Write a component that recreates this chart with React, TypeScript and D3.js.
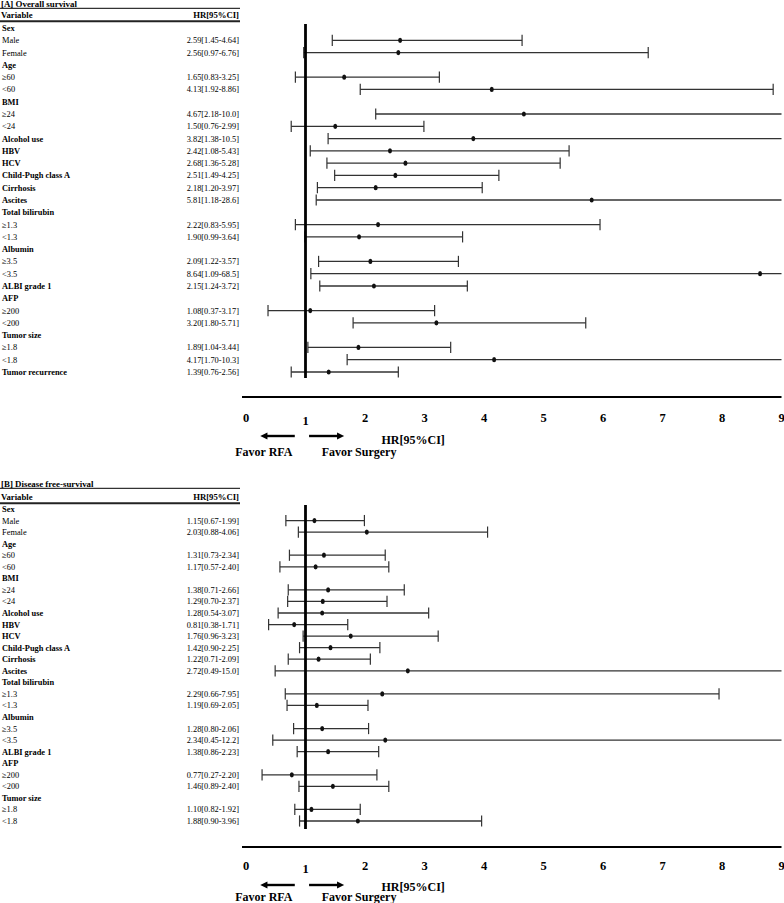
import React from "react";
import * as d3 from "d3";

// ---------- Data: [A] Overall survival ----------
const labelsA = [
  "Sex", "Male", "Female", "Age", "≥60", "<60", "BMI", "≥24", "<24",
  "Alcohol use", "HBV", "HCV", "Child-Pugh class A", "Cirrhosis", "Ascites",
  "Total bilirubin", "≥1.3", "<1.3", "Albumin", "≥3.5", "<3.5", "ALBI grade 1",
  "AFP", "≥200", "<200", "Tumor size", "≥1.8", "<1.8", "Tumor recurrence",
];
const hrA = [null, 2.59, 2.56, null, 1.65, 4.13, null, 4.67, 1.5, 3.82, 2.42, 2.68, 2.51, 2.18, 5.81, null, 2.22, 1.9, null, 2.09, 8.64, 2.15, null, 1.08, 3.2, null, 1.89, 4.17, 1.39];
const loA = [null, 1.45, 0.97, null, 0.83, 1.92, null, 2.18, 0.76, 1.38, 1.08, 1.36, 1.49, 1.2, 1.18, null, 0.83, 0.99, null, 1.22, 1.09, 1.24, null, 0.37, 1.8, null, 1.04, 1.7, 0.76];
const hiA = [null, 4.64, 6.76, null, 3.25, 8.86, null, 10.0, 2.99, 10.5, 5.43, 5.28, 4.25, 3.97, 28.6, null, 5.95, 3.64, null, 3.57, 68.5, 3.72, null, 3.17, 5.71, null, 3.44, 10.3, 2.56];

// ---------- Data: [B] Disease free-survival ----------
const labelsB = [
  "Sex", "Male", "Female", "Age", "≥60", "<60", "BMI", "≥24", "<24",
  "Alcohol use", "HBV", "HCV", "Child-Pugh class A", "Cirrhosis", "Ascites",
  "Total bilirubin", "≥1.3", "<1.3", "Albumin", "≥3.5", "<3.5", "ALBI grade 1",
  "AFP", "≥200", "<200", "Tumor size", "≥1.8", "<1.8",
];
const hrB = [null, 1.15, 2.03, null, 1.31, 1.17, null, 1.38, 1.29, 1.28, 0.81, 1.76, 1.42, 1.22, 2.72, null, 2.29, 1.19, null, 1.28, 2.34, 1.38, null, 0.77, 1.46, null, 1.1, 1.88];
const loB = [null, 0.67, 0.88, null, 0.73, 0.57, null, 0.71, 0.7, 0.54, 0.38, 0.96, 0.9, 0.71, 0.49, null, 0.66, 0.69, null, 0.8, 0.45, 0.86, null, 0.27, 0.89, null, 0.82, 0.9];
const hiB = [null, 1.99, 4.06, null, 2.34, 2.4, null, 2.66, 2.37, 3.07, 1.71, 3.23, 2.25, 2.09, 15.0, null, 7.95, 2.05, null, 2.06, 12.2, 2.23, null, 2.2, 2.4, null, 1.92, 3.96];

const tickValues = [0, 1, 2, 3, 4, 5, 6, 7, 8, 9];
const subgroupLabels = ["Male", "Female"];

const FONT = "'Liberation Serif', 'Times New Roman', Times, serif";
const W = 784;
const H = 903;

const x = d3.scaleLinear().domain([0, 9]).range([246, 781.5]);

const fmt = (v: number) => (v >= 10 ? v.toFixed(1) : v.toFixed(2));
const isSub = (l: string) => subgroupLabels.includes(l) || l.startsWith("≥") || l.startsWith("<");

type PanelProps = {
  title: string;
  labels: string[];
  hr: (number | null)[];
  lo: (number | null)[];
  hi: (number | null)[];
  titleY: number;
  firstRow: number;
  lastRow: number;
  refTop: number;
  refBottom: number;
  axisY: number;
  tickDy: number;
  arrowDy: number;
  hrDy: number;
  favorDy: number;
  headerY: number;
};

function Panel(p: PanelProps) {
  const y = d3
    .scalePoint<number>()
    .domain(d3.range(p.labels.length))
    .range([p.firstRow, p.lastRow]);
  const xMax = x.domain()[1];
  const capH = 5.6;
  const headerY = p.headerY;
  return (
    <g>
      {/* Title and header */}
      <text x={1} y={p.titleY} fontFamily={FONT} fontWeight="bold" fontSize={8.9}>
        {p.title}
      </text>
      <line x1={0} x2={240} y1={p.titleY + 1.3} y2={p.titleY + 1.3} stroke="#000" strokeWidth={1} />
      <text x={1} y={headerY} fontFamily={FONT} fontWeight="bold" fontSize={8.7}>
        Variable
      </text>
      <text x={239} y={headerY} fontFamily={FONT} fontWeight="bold" fontSize={8.7} textAnchor="end">
        HR[95%CI]
      </text>
      <line x1={0} x2={240} y1={headerY + 3.2} y2={headerY + 3.2} stroke="#222" strokeWidth={2} />

      {/* Rows */}
      {p.labels.map((l, i) => {
        const yy = y(i)!;
        const h = p.hr[i];
        const lo = p.lo[i];
        const hi = p.hi[i];
        return (
          <g key={i}>
            <text
              x={2}
              y={yy + 3}
              fontFamily={FONT}
              fontSize={8.4}
              fontWeight={isSub(l) ? "normal" : "bold"}
            >
              {l}
            </text>
            {h != null && lo != null && hi != null && (
              <>
                <text x={239} y={yy + 3} fontFamily={FONT} fontSize={8.4} textAnchor="end">
                  {`${fmt(h)}[${fmt(lo)}-${fmt(hi)}]`}
                </text>
                <line
                  x1={x(lo)}
                  x2={x(Math.min(hi, xMax))}
                  y1={yy}
                  y2={yy}
                  stroke="#333"
                  strokeWidth={1.3}
                />
                <line x1={x(lo)} x2={x(lo)} y1={yy - capH} y2={yy + capH} stroke="#333" strokeWidth={1.2} />
                {hi <= xMax && (
                  <line x1={x(hi)} x2={x(hi)} y1={yy - capH} y2={yy + capH} stroke="#333" strokeWidth={1.2} />
                )}
                <ellipse cx={x(h)} cy={yy} rx={2} ry={2.6} fill="#111" />
              </>
            )}
          </g>
        );
      })}

      {/* Reference line at HR = 1 */}
      <line x1={x(1)} x2={x(1)} y1={p.refTop} y2={p.refBottom} stroke="#000" strokeWidth={2.8} />

      {/* Axis */}
      <line x1={242} x2={x(9)} y1={p.axisY} y2={p.axisY} stroke="#000" strokeWidth={2} />
      {tickValues.map((t) => (
        <text
          key={t}
          x={x(t)}
          y={p.axisY + p.tickDy + (t === 1 ? 3 : 0)}
          fontFamily={FONT}
          fontWeight="bold"
          fontSize={12.5}
          textAnchor="middle"
        >
          {t}
        </text>
      ))}

      {/* Arrows */}
      <line x1={x(0.82)} x2={x(0.33)} y1={p.axisY + p.arrowDy} y2={p.axisY + p.arrowDy} stroke="#000" strokeWidth={2.4} />
      <path
        d={`M${x(0.24)},${p.axisY + p.arrowDy} L${x(0.36)},${p.axisY + p.arrowDy - 3.6} L${x(0.36)},${p.axisY + p.arrowDy + 3.6} Z`}
        fill="#000"
      />
      <line x1={x(1.06)} x2={x(1.56)} y1={p.axisY + p.arrowDy} y2={p.axisY + p.arrowDy} stroke="#000" strokeWidth={2.4} />
      <path
        d={`M${x(1.65)},${p.axisY + p.arrowDy} L${x(1.53)},${p.axisY + p.arrowDy - 3.6} L${x(1.53)},${p.axisY + p.arrowDy + 3.6} Z`}
        fill="#000"
      />
      <text x={x(2.81)} y={p.axisY + p.hrDy} fontFamily={FONT} fontWeight="bold" fontSize={12} textAnchor="middle">
        HR[95%CI]
      </text>
      <text x={x(0.3)} y={p.axisY + p.favorDy} fontFamily={FONT} fontWeight="bold" fontSize={12} textAnchor="middle">
        Favor RFA
      </text>
      <text x={x(1.9)} y={p.axisY + p.favorDy} fontFamily={FONT} fontWeight="bold" fontSize={12} textAnchor="middle">
        Favor Surgery
      </text>
    </g>
  );
}

export default function App() {
  return (
    <svg
      width={W}
      height={H}
      viewBox={`0 0 ${W} ${H}`}
      style={{ position: "absolute", left: 0, top: 0, background: "#fff" }}
    >
      <rect x={0} y={0} width={W} height={H} fill="#fff" />
      <Panel
        title="[A] Overall survival"
        labels={labelsA}
        hr={hrA}
        lo={loA}
        hi={hiA}
        titleY={7}
        headerY={18}
        firstRow={28}
        lastRow={372}
        refTop={24}
        refBottom={378}
        axisY={397}
        tickDy={25}
        arrowDy={39}
        hrDy={47}
        favorDy={59}
      />
      <Panel
        title="[B] Disease free-survival"
        labels={labelsB}
        hr={hrB}
        lo={loB}
        hi={hiB}
        titleY={487}
        headerY={500}
        firstRow={509}
        lastRow={821}
        refTop={505}
        refBottom={829}
        axisY={847}
        tickDy={23}
        arrowDy={38}
        hrDy={44}
        favorDy={54}
      />
    </svg>
  );
}
